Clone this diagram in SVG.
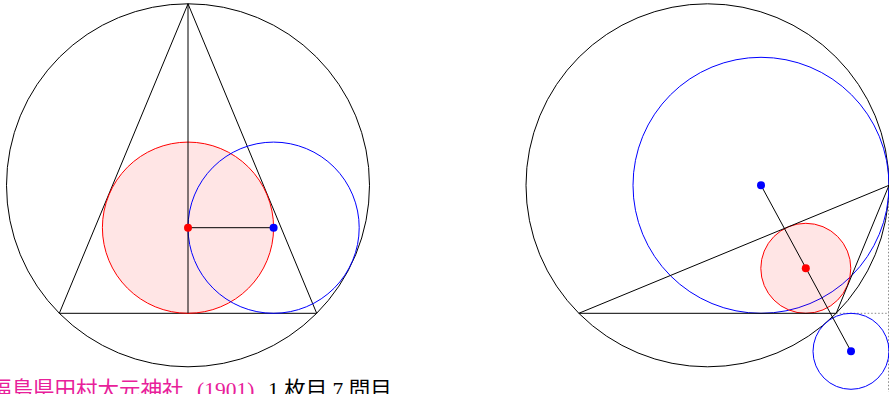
<svg xmlns="http://www.w3.org/2000/svg" width="889" height="394" viewBox="0 0 889 394">
<style>
.k{fill:none;stroke:#000;stroke-width:1}
.b{fill:none;stroke:#0000ff;stroke-width:1}
.r{fill:#ff0000;fill-opacity:0.1;stroke:#ff0000;stroke-width:1}
.d{fill:none;stroke:#888;stroke-width:1;stroke-dasharray:1.5 2}
.rd{fill:#ff0000}
.bd{fill:#0000ff}
.t{font-family:"Liberation Serif","Noto Sans CJK JP",serif;font-size:21.5px}
</style>
<rect width="889" height="394" fill="#fff"/>
<g id="left">
  <circle class="k" cx="188" cy="185.3" r="181.5"/>
  <g id="left-triangle"><path class="k" d="M188 3.8 L59.3 313.3 L316.7 313.3 Z"/></g>
  <circle class="r" cx="188" cy="227.7" r="85.6"/>
  <circle class="b" cx="273.6" cy="227.7" r="85.6"/>
  <g id="left-connectors">
    <line class="k" x1="188" y1="3.8" x2="188" y2="313.3"/>
    <line class="k" x1="188" y1="227.7" x2="273.6" y2="227.7"/>
  </g>
  <circle class="rd" cx="188" cy="227.7" r="4"/>
  <circle class="bd" cx="273.6" cy="227.7" r="4"/>
</g>
<g id="right">
  <circle class="k" cx="707.5" cy="185.3" r="181.5"/>
  <g id="right-dotted">
    <line class="d" x1="836.2" y1="313.3" x2="889" y2="313.3"/>
    <line class="d" x1="888.5" y1="185.3" x2="888.5" y2="392"/>
  </g>
  <circle class="b" cx="761" cy="185.3" r="128"/>
  <circle class="r" cx="805.8" cy="268.3" r="45"/>
  <circle class="b" cx="851" cy="351.3" r="38"/>
  <g id="right-triangle"><path class="k" d="M578.8 313.3 L836.2 313.3 L889 185.3 Z"/></g>
  <g id="right-connectors">
    <line class="k" x1="761" y1="185.3" x2="851" y2="351.3"/>
  </g>
  <circle class="bd" cx="761" cy="185.3" r="4"/>
  <circle class="rd" cx="805.8" cy="268.3" r="4"/>
  <circle class="bd" cx="851" cy="351.3" r="4"/>
</g>
<g id="caption">
  <text class="t" x="-10" y="396.5" fill="#e8209a">福島県田村大元神社</text>
  <text class="t" x="197" y="396.5" fill="#e8209a">(1901)</text>
  <text class="t" x="268" y="396.5" fill="#000">1 枚目 7 問目</text>
</g>
</svg>
